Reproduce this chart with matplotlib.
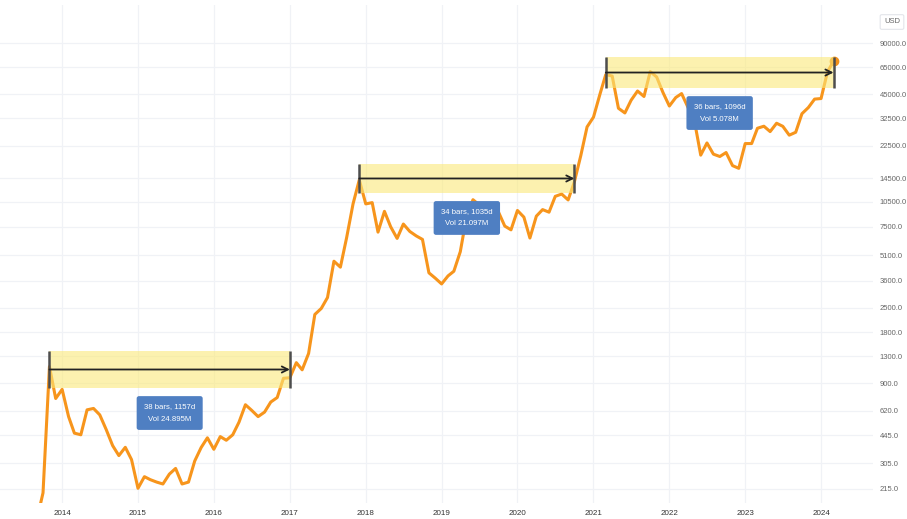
import matplotlib
matplotlib.use('Agg')
import matplotlib.pyplot as plt
import matplotlib.dates as mdates
import pandas as pd
import numpy as np

plt.rcParams['font.family'] = ['Liberation Sans', 'DejaVu Sans']

# ---- data (monthly closes, USD) ----
close_2013 = [141, 204, 1129, 732]  # Sep-Dec
close_2014 = [829, 573, 458, 448, 628, 640, 587, 481, 387, 338, 378, 320]
close_2015 = [217, 254, 244, 236, 230, 263, 284, 230, 236, 314, 377, 430]
close_2016 = [368, 437, 416, 448, 531, 673, 624, 573, 609, 698, 742, 963]
close_2017 = [970, 1190, 1080, 1348, 2286, 2480, 2875, 4703, 4338, 6468, 10233, 14156]
close_2018 = [10221, 10397, 6973, 9240, 7494, 6404, 7780, 7037, 6625, 6317, 4017, 3742]
close_2019 = [3457, 3854, 4105, 5350, 8574, 10817, 10085, 9631, 8293, 9199, 7569, 7193]
close_2020 = [9350, 8544, 6438, 8658, 9461, 9137, 11323, 11681, 10784, 13781, 19700, 28990]
close_2021 = [33114, 45137, 58918, 57750, 37332, 35041, 41626, 47166, 43791, 61318, 57005, 46306]
close_2022 = [38483, 43194, 45538, 37714, 31792, 19785, 23336, 20050, 19423, 20495, 17168, 16548]
close_2023 = [23139, 23147, 28478, 29268, 27219, 30477, 29230, 25931, 26967, 34667, 37712, 42265]
close_2024 = [42582, 61198, 70500]  # Jan-Mar
first_month = '2013-09-01'

range_start = ['2013-11-01', '2017-12-01', '2021-03-01']
range_end = ['2017-01-01', '2020-10-01', '2024-03-01']
range_low = [844, 11850, 49100]
range_high = [1394, 17550, 74750]
range_label = ['38 bars, 1157d\nVol 24.895M',
               '34 bars, 1035d\nVol 21.097M',
               '36 bars, 1096d\nVol 5.078M']

yticks = [215, 305, 445, 620, 900, 1300, 1800, 2500, 3600, 5100, 7500,
          10500, 14500, 22500, 32500, 45000, 65000, 90000]
xtick_years = list(range(2014, 2025))

closes = (close_2013 + close_2014 + close_2015 + close_2016 + close_2017 + close_2018
          + close_2019 + close_2020 + close_2021 + close_2022 + close_2023 + close_2024)
dates = pd.date_range(first_month, periods=len(closes), freq='MS')

# ---- figure ----
W, H = 907, 519
fig = plt.figure(figsize=(W / 100, H / 100), dpi=100)
fig.patch.set_facecolor('white')
ax = fig.add_axes([0 / W, 1 - 503 / H, 873 / W, (503 - 5) / H])
ax.set_facecolor('white')
ax.set_yscale('log')

orange = '#f7951c'
ax.plot(dates, closes, color=orange, lw=2.2, solid_joinstyle='round', zorder=3)
ax.plot(dates[-1], closes[-1], 'o', color='#f39019', ms=6, zorder=4)

for s, e, lo, hi, txt in zip(range_start, range_end, range_low, range_high, range_label):
    x0 = mdates.date2num(pd.Timestamp(s))
    x1 = mdates.date2num(pd.Timestamp(e))
    ax.fill_between([x0, x1], lo, hi, color='#fbe97a', alpha=0.6, lw=0, zorder=4)
    ax.vlines([x0, x1], lo, hi, color='#4d4d4d', lw=1.8, zorder=5)
    mid = np.sqrt(lo * hi)
    ax.annotate('', xy=(x1, mid), xytext=(x0, mid),
                arrowprops=dict(arrowstyle='->', color='#222222', lw=1.3,
                                shrinkA=0, shrinkB=0, mutation_scale=11),
                zorder=6)
    ax.annotate(txt, xy=((x0 + x1) / 2, lo), xytext=(0, -18), textcoords='offset points',
                ha='center', va='center', fontsize=5.6, color='white', linespacing=2.0,
                bbox=dict(boxstyle='round,pad=0.95,rounding_size=0.3', fc='#4f7fc2', ec='none'),
                zorder=7)

# axes
ax.set_ylim(177.8, 151200)
ax.set_xlim(mdates.date2num(pd.Timestamp('2013-03-08')),
            mdates.date2num(pd.Timestamp('2024-09-07')))
ax.set_yticks(yticks)
ax.set_yticklabels([f'{v:.1f}' for v in yticks])
ax.yaxis.set_minor_locator(matplotlib.ticker.NullLocator())
ax.yaxis.tick_right()
xt = [mdates.date2num(pd.Timestamp(f'{y}-01-01')) for y in xtick_years]
ax.set_xticks(xt)
ax.set_xticklabels([str(y) for y in xtick_years])
ax.tick_params(axis='y', length=0, pad=5, labelsize=5.5, labelcolor='#666666')
ax.tick_params(axis='x', length=0, pad=5, labelsize=5.8, labelcolor='#333333')
ax.grid(True, color='#f0f2f6', lw=0.9, zorder=0)
ax.set_axisbelow(True)
for sp in ax.spines.values():
    sp.set_visible(False)

fig.text(892 / W, 1 - 22 / H, 'USD', ha='center', va='center', fontsize=5.5, color='#666666',
         bbox=dict(boxstyle='round,pad=0.5,rounding_size=0.2', fc='white', ec='#e3e5ea', lw=0.8))

fig.savefig('out.png', dpi=100, facecolor='white')
